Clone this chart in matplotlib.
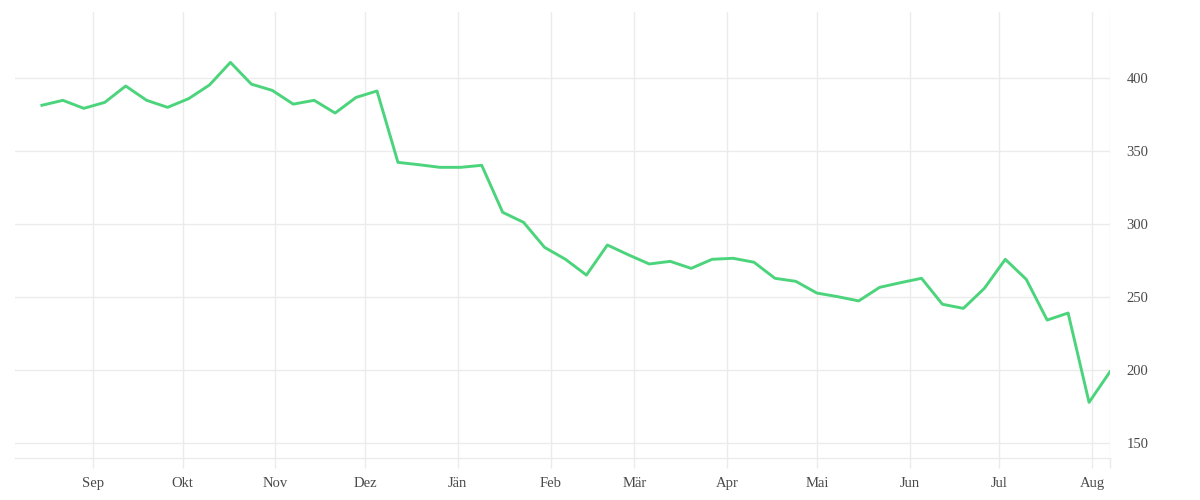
import numpy as np
import pandas as pd
import matplotlib
matplotlib.use("Agg")
import matplotlib.pyplot as plt
import matplotlib.dates as mdates

# weekly values, mid Aug 2021 .. early Aug 2022
start_date = "2021-08-15"
last_date = "2022-08-07"
values = [381.0, 384.4, 378.9, 383.0, 394.2, 384.4, 379.6, 385.5, 394.9, 410.4,
          395.5, 391.2, 381.8, 384.4, 375.7, 386.4, 390.8, 341.9, 340.3, 338.5,
          338.5, 339.9, 307.7, 300.8, 283.7, 275.5, 264.7, 285.3, 278.6, 272.3,
          274.1, 269.3, 275.5, 276.2, 273.5, 262.5, 260.4, 252.4, 249.9, 247.0,
          256.3, 259.5, 262.5, 244.7, 241.9, 255.6, 275.5, 261.8, 233.9, 238.7,
          177.5, 198.5]
month_labels = ["Sep", "Okt", "Nov", "Dez", "Jän", "Feb", "Mär", "Apr",
                "Mai", "Jun", "Jul", "Aug"]
yticks = [150, 200, 250, 300, 350, 400]

dates = list(pd.date_range(start_date, periods=len(values) - 1, freq="7D"))
dates.append(pd.Timestamp(last_date))

grid_col = "#ebebeb"
text_col = "#4a4a4a"
plt.rcParams['font.family'] = ['Liberation Serif', 'DejaVu Serif']

fig = plt.figure(figsize=(12, 5), dpi=100)
ax = fig.add_axes([0.0125, 0.0834, 0.9125, 0.8926])

ax.plot(dates, values, color="#4cd47c", linewidth=2.1, zorder=3)

x0 = pd.Timestamp("2021-08-06")
x1 = pd.Timestamp(last_date)
ax.set_xlim(x0, x1)
ax.set_ylim(139.2, 444.9)

month_ticks = list(pd.date_range("2021-09-01", periods=12, freq="MS"))
ax.set_xticks(month_ticks + [x1])
ax.set_xticklabels(month_labels + [""])
ax.set_yticks(yticks)
ax.yaxis.tick_right()

ax.grid(True, color=grid_col, linewidth=1)
ax.set_axisbelow(True)
for s in ["top", "left", "right"]:
    ax.spines[s].set_visible(False)
ax.spines["bottom"].set_color(grid_col)
ax.spines["bottom"].set_linewidth(1)

ax.tick_params(axis="x", length=7.2, width=1, color=grid_col, labelcolor=text_col,
               labelsize=10.5, pad=6)
ax.tick_params(axis="y", length=0, labelcolor=text_col, labelsize=10.5, pad=12)

fig.savefig("out.png", dpi=100, facecolor="white")
